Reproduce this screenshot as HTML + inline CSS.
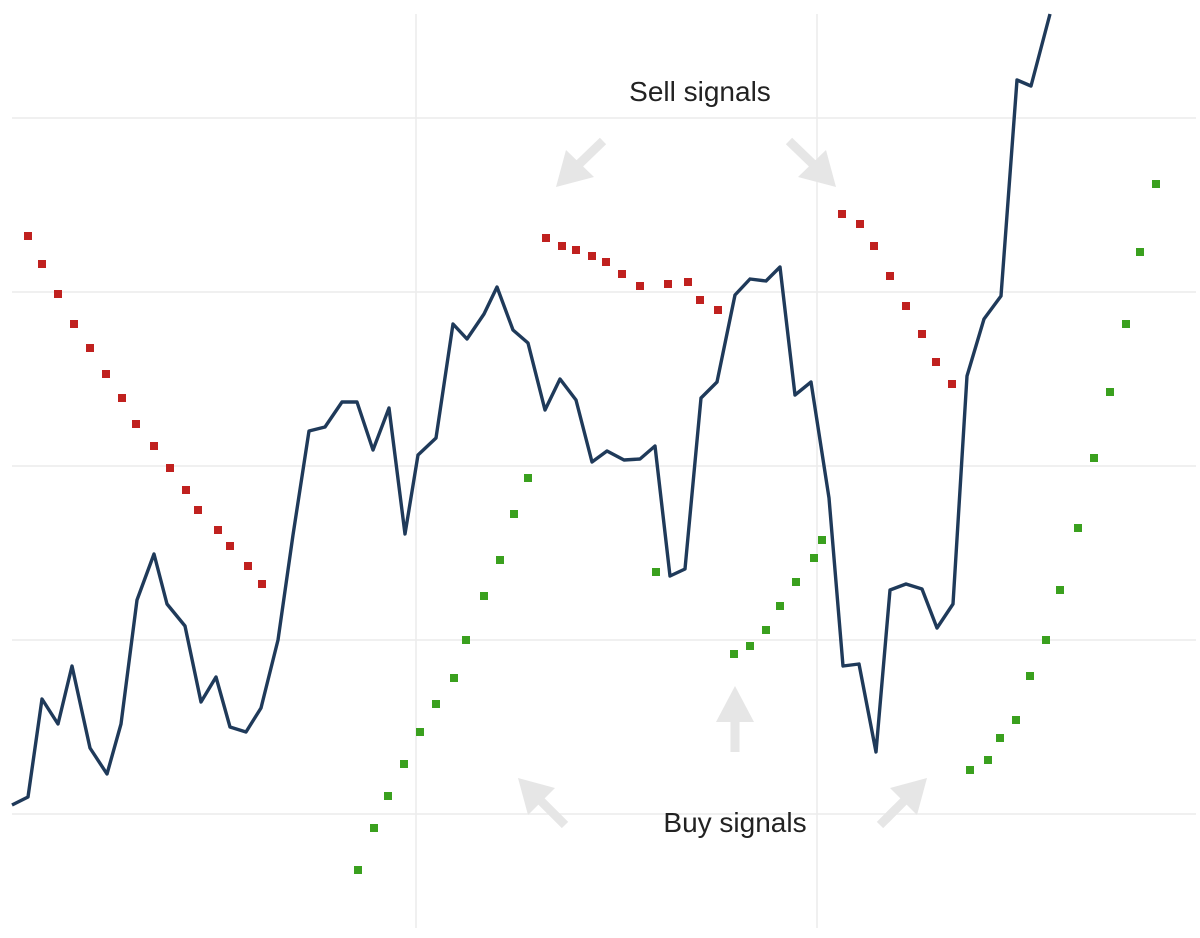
<!DOCTYPE html>
<html><head><meta charset="utf-8"><style>
html,body{margin:0;padding:0;background:#fff;width:1200px;height:938px;overflow:hidden}
</style></head><body>
<svg width="1200" height="938" viewBox="0 0 1200 938" xmlns="http://www.w3.org/2000/svg">
<g stroke="#ececec" stroke-width="1.5">
<line x1="12" y1="118" x2="1196" y2="118"/><line x1="12" y1="292" x2="1196" y2="292"/>
<line x1="12" y1="466" x2="1196" y2="466"/><line x1="12" y1="640" x2="1196" y2="640"/>
<line x1="12" y1="814" x2="1196" y2="814"/>
<line x1="416" y1="14" x2="416" y2="928"/><line x1="817" y1="14" x2="817" y2="928"/>
</g>
<g fill="#e6e6e6" stroke="#e6e6e6" stroke-width="9">
<line x1="603" y1="141" x2="575" y2="168"/><polygon stroke="none" points="556,187 566,150 594,177"/>
<line x1="789" y1="141" x2="817" y2="168"/><polygon stroke="none" points="836,187 826,150 798,177"/>
<line x1="565" y1="825" x2="537" y2="797"/><polygon stroke="none" points="518,778 555,788 528,815"/>
<line x1="735" y1="752" x2="735" y2="712"/><polygon stroke="none" points="735,686 754,722 716,722"/>
<line x1="880" y1="825" x2="908" y2="797"/><polygon stroke="none" points="927,778 917,815 890,788"/>
</g>
<text x="700" y="101" font-family="Liberation Sans, sans-serif" font-size="28" fill="#222" text-anchor="middle">Sell signals</text>
<text x="735" y="832" font-family="Liberation Sans, sans-serif" font-size="28" fill="#222" text-anchor="middle">Buy signals</text>
<polyline fill="none" stroke="#1f3a5a" stroke-width="3.4" stroke-linejoin="round" points="12,805 28,797 42,699 58,724 72,666 90,748 107,774 121,724 137,600 154,554 167,604 185,626 201,702 216,677 230,727 246,732 261,708 278,640 293,535 309,431 325,427 342,402 357,402 373,450 389,408 405,534 418,455 436,438 453,324 467,339 484,314 497,287 513,330 528,343 545,410 560,379 576,400 592,462 607,451 624,460 640,459 655,446 670,576 685,569 701,398 717,382 735,295 750,279 766,281 780,267 795,395 811,382 829,498 843,666 859,664 876,752 890,590 906,584 922,589 937,628 953,604 967,376 984,319 1001,296 1017,80 1031,86 1050,14"/>
<g fill="#c0211f">
<rect x="24" y="232" width="8" height="8"/><rect x="38" y="260" width="8" height="8"/><rect x="54" y="290" width="8" height="8"/><rect x="70" y="320" width="8" height="8"/><rect x="86" y="344" width="8" height="8"/><rect x="102" y="370" width="8" height="8"/><rect x="118" y="394" width="8" height="8"/><rect x="132" y="420" width="8" height="8"/><rect x="150" y="442" width="8" height="8"/><rect x="166" y="464" width="8" height="8"/><rect x="182" y="486" width="8" height="8"/><rect x="194" y="506" width="8" height="8"/><rect x="214" y="526" width="8" height="8"/><rect x="226" y="542" width="8" height="8"/><rect x="244" y="562" width="8" height="8"/><rect x="258" y="580" width="8" height="8"/>
<rect x="542" y="234" width="8" height="8"/><rect x="558" y="242" width="8" height="8"/><rect x="572" y="246" width="8" height="8"/><rect x="588" y="252" width="8" height="8"/><rect x="602" y="258" width="8" height="8"/><rect x="618" y="270" width="8" height="8"/><rect x="636" y="282" width="8" height="8"/><rect x="664" y="280" width="8" height="8"/><rect x="684" y="278" width="8" height="8"/><rect x="696" y="296" width="8" height="8"/><rect x="714" y="306" width="8" height="8"/>
<rect x="838" y="210" width="8" height="8"/><rect x="856" y="220" width="8" height="8"/><rect x="870" y="242" width="8" height="8"/><rect x="886" y="272" width="8" height="8"/><rect x="902" y="302" width="8" height="8"/><rect x="918" y="330" width="8" height="8"/><rect x="932" y="358" width="8" height="8"/><rect x="948" y="380" width="8" height="8"/>
</g>
<g fill="#3aa01e">
<rect x="354" y="866" width="8" height="8"/><rect x="370" y="824" width="8" height="8"/><rect x="384" y="792" width="8" height="8"/><rect x="400" y="760" width="8" height="8"/><rect x="416" y="728" width="8" height="8"/><rect x="432" y="700" width="8" height="8"/><rect x="450" y="674" width="8" height="8"/><rect x="462" y="636" width="8" height="8"/><rect x="480" y="592" width="8" height="8"/><rect x="496" y="556" width="8" height="8"/><rect x="510" y="510" width="8" height="8"/><rect x="524" y="474" width="8" height="8"/>
<rect x="652" y="568" width="8" height="8"/>
<rect x="730" y="650" width="8" height="8"/><rect x="746" y="642" width="8" height="8"/><rect x="762" y="626" width="8" height="8"/><rect x="776" y="602" width="8" height="8"/><rect x="792" y="578" width="8" height="8"/><rect x="810" y="554" width="8" height="8"/><rect x="818" y="536" width="8" height="8"/>
<rect x="966" y="766" width="8" height="8"/><rect x="984" y="756" width="8" height="8"/><rect x="996" y="734" width="8" height="8"/><rect x="1012" y="716" width="8" height="8"/><rect x="1026" y="672" width="8" height="8"/><rect x="1042" y="636" width="8" height="8"/><rect x="1056" y="586" width="8" height="8"/><rect x="1074" y="524" width="8" height="8"/><rect x="1090" y="454" width="8" height="8"/><rect x="1106" y="388" width="8" height="8"/><rect x="1122" y="320" width="8" height="8"/><rect x="1136" y="248" width="8" height="8"/><rect x="1152" y="180" width="8" height="8"/>
</g>
</svg>
</body></html>
